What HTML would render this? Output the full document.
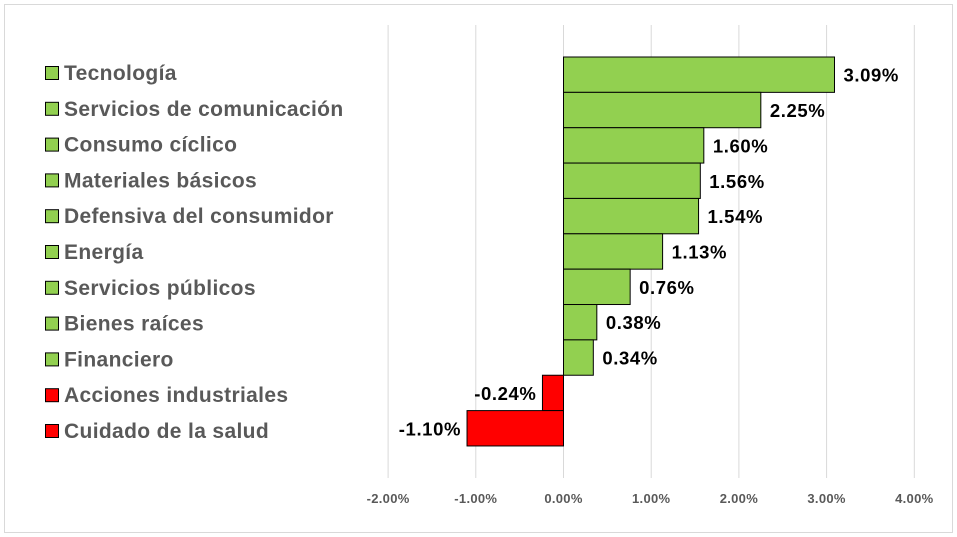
<!DOCTYPE html>
<html><head><meta charset="utf-8"><style>
html,body{margin:0;padding:0;background:#fff;}
svg{display:block;font-family:"Liberation Sans",sans-serif;}
</style></head><body>
<svg id="chart" width="957" height="537">
<rect x="4.5" y="4.5" width="948" height="528" fill="#fff" stroke="#d9d9d9"/>
<g id="grid"></g><g id="bars"></g><g id="labels"></g><g id="ticks"></g><g id="legend"></g>
</svg>
<script>
const categories=["Tecnología","Servicios de comunicación","Consumo cíclico","Materiales básicos","Defensiva del consumidor","Energía","Servicios públicos","Bienes raíces","Financiero","Acciones industriales","Cuidado de la salud"];
const values=[3.09,2.25,1.60,1.56,1.54,1.13,0.76,0.38,0.34,-0.24,-1.10];
const tickValues=[-2,-1,0,1,2,3,4];
const NS="http://www.w3.org/2000/svg";
function x(v){return 563.5+v*87.7;}
const top0=57,band=35.36;
function y(i){return top0+i*band;}
function mk(tag,attrs,parent){const e=document.createElementNS(NS,tag);for(const k in attrs)e.setAttribute(k,attrs[k]);document.getElementById(parent).appendChild(e);return e;}
tickValues.forEach(t=>{
  const l=mk("line",{x1:x(t),x2:x(t),y1:25,y2:478,stroke:"#d9d9d9","stroke-width":1},"grid");
  
  
  const tx=mk("text",{x:x(t),y:503,"text-anchor":"middle","font-size":13,"font-weight":"bold","letter-spacing":"0.3",fill:"#595959"},"ticks");
  tx.textContent=t.toFixed(2)+"%";
  
  
});
values.forEach((v,i)=>{
  const col=v>=0?"#92D050":"#FF0000";
  const r=mk("rect",{x:Math.min(x(0),x(v)),y:y(i),width:Math.abs(x(v)-x(0)),height:band,fill:col,stroke:"#000","stroke-width":1},"bars");
  
  
  const lb=mk("text",{x:v>=0?x(v)+9:x(v)-6,y:y(i)+band/2+7,"text-anchor":v>=0?"start":"end","font-size":18.5,"font-weight":"bold","letter-spacing":"0.6",fill:"#000"},"labels");
  lb.textContent=v.toFixed(2)+"%";
  
  
  const ly=73+i*35.8;
  const sq=mk("rect",{x:45.5,y:ly-6.5,width:13,height:13,fill:col,stroke:"#000","stroke-width":1},"legend");
  
  
  const lt=mk("text",{x:64,y:ly+7,"font-size":21,"font-weight":"bold","letter-spacing":"0.35",fill:"#595959"},"legend");
  lt.textContent=categories[i];
  
  
});
</script>
</body></html>
